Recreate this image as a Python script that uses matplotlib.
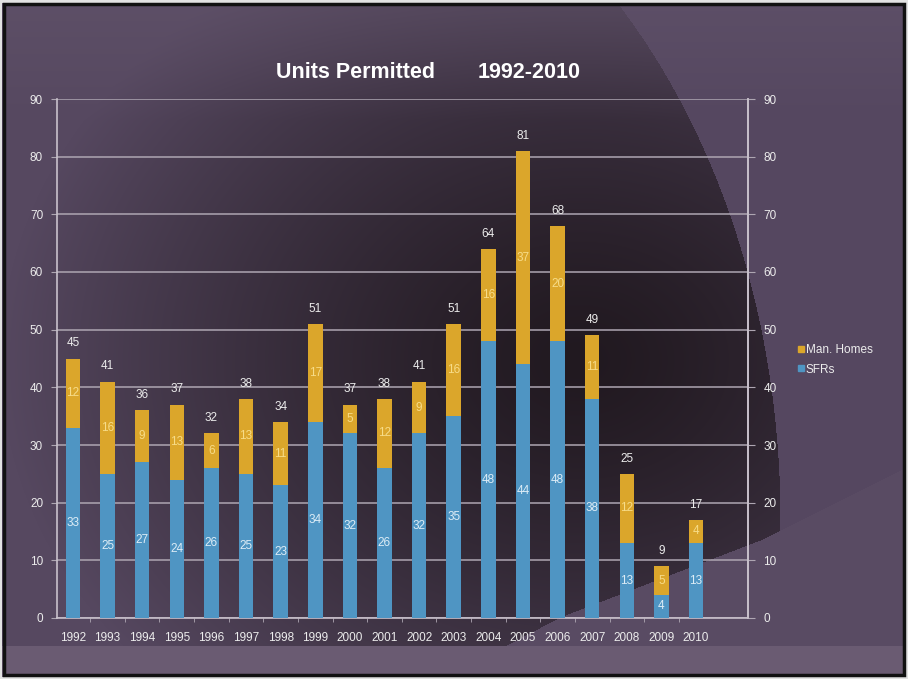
import matplotlib
matplotlib.use("Agg")
import matplotlib.pyplot as plt
import numpy as np
from matplotlib.lines import Line2D
from matplotlib.patches import Rectangle

plt.rcParams['font.family'] = ['Liberation Sans', 'DejaVu Sans']

# permits per year
years = [str(y) for y in range(1992, 2011)]
sfrs = [33, 25, 27, 24, 26, 25, 23, 34, 32, 26, 32, 35, 48, 44, 48, 38, 13, 4, 13]
man_homes = [12, 16, 9, 13, 6, 13, 11, 17, 5, 12, 9, 16, 16, 37, 20, 11, 12, 5, 4]
totals = [45, 41, 36, 37, 32, 38, 34, 51, 37, 38, 41, 51, 64, 81, 68, 49, 25, 9, 17]
y_ticks = list(range(0, 100, 10))

# colours
blue = '#4f95c3'
gold = '#dba62b'
grid_col = '#aea6b2'
text_col = '#ececec'
blue_txt = '#dcecf6'
gold_txt = '#f7dc88'

W, H = 908, 679


def hex_rgb(h):
    return np.array([int(h[i:i + 2], 16) for i in (1, 3, 5)]) / 255.0


def background_image():
    yy, xx = np.mgrid[0:H, 0:W].astype(float)
    img = np.zeros((H, W, 3))
    img[:] = hex_rgb('#554760')

    # big dark sweep through the middle
    e = ((xx - 250) / 530) ** 2 + ((yy - 520) / 717) ** 2
    d = np.hypot(xx - 580, (yy - 360) * 1.25)
    t = np.clip(d / 580, 0, 1) ** 1.3
    dark = hex_rgb('#211920')
    mid = hex_rgb('#564860')
    core = dark + (mid - dark) * t[..., None]
    inside = e < 1
    img[inside] = core[inside]

    # lighter haze along the top
    w = np.clip((120 - yy) / 120, 0, 1) * 0.45
    img = img + (hex_rgb('#66586f') - img) * w[..., None]

    # lavender wedge bottom right
    curve = np.interp(xx, [440, 560, 760, 908], [680, 617, 540, 466])
    wedge = yy > curve
    img[wedge] = hex_rgb('#594b63')

    # lavender strip under the plot
    img[yy > 645] = hex_rgb('#6a5b72')

    # outer frame
    img[(yy < 3) | (xx < 2) | (xx > W - 3) | (yy > H - 3)] = hex_rgb('#e2e2e2')
    return img


def draw_background(fig):
    bg = fig.add_axes([0, 0, 1, 1], zorder=-5)
    bg.imshow(background_image(), extent=(0, W, H, 0), aspect='auto')
    bg.add_patch(Rectangle((4, 4), W - 8, H - 8, fill=False, edgecolor='#111111', linewidth=2.5))
    bg.set_xlim(0, W)
    bg.set_ylim(H, 0)
    bg.axis('off')


def draw_bars(ax):
    x = np.arange(len(years))
    ax.bar(x, sfrs, width=0.42, color=blue, zorder=3)
    ax.bar(x, man_homes, bottom=sfrs, width=0.42, color=gold, zorder=3)

    for i in range(len(years)):
        ax.text(x[i], sfrs[i] / 2, str(sfrs[i]), ha='center', va='center',
                fontsize=8.5, color=blue_txt, zorder=4)
        ax.text(x[i], sfrs[i] + man_homes[i] / 2, str(man_homes[i]), ha='center',
                va='center', fontsize=8.5, color=gold_txt, zorder=4)
        ax.annotate(str(totals[i]), (x[i], sfrs[i] + man_homes[i]), xytext=(0, 11),
                    textcoords='offset points', ha='center', va='center',
                    fontsize=8.5, color=text_col, zorder=4)

    ax.set_xlim(-0.46, 19.5)
    ax.set_ylim(0, 90)
    ax.set_xticks(x)
    ax.set_xticklabels(years)
    ax.set_xticks(x[:-1] + 0.5, minor=True)
    ax.set_yticks(y_ticks)


def style_axes(ax):
    ax.set_facecolor('none')
    ax.grid(axis='y', color=grid_col, linewidth=1.1, zorder=1)
    ax.set_axisbelow(True)
    for side in ('left', 'bottom', 'right'):
        ax.spines[side].set_color('#c9c1cc')
        ax.spines[side].set_linewidth(1.2)
    ax.spines['top'].set_visible(False)
    ax.tick_params(axis='x', which='major', length=0, pad=10, labelsize=8.5, colors=text_col)
    ax.tick_params(axis='x', which='minor', length=3, color=grid_col)
    ax.tick_params(axis='y', length=4, color=grid_col, labelsize=8.5, labelcolor=text_col, pad=6)

    right = ax.twinx()
    right.set_ylim(ax.get_ylim())
    right.set_yticks(y_ticks)
    right.set_facecolor('none')
    for side in ('left', 'bottom', 'top'):
        right.spines[side].set_visible(False)
    right.spines['right'].set_color('#c9c1cc')
    right.spines['right'].set_linewidth(1.2)
    right.tick_params(axis='y', length=5, color=grid_col, labelsize=8.5, labelcolor=text_col, pad=6)


def legend(fig):
    handles = [Line2D([], [], marker='s', linestyle='', markersize=5, color=gold),
               Line2D([], [], marker='s', linestyle='', markersize=5, color=blue)]
    fig.legend(handles, ['Man. Homes', 'SFRs'], loc='center left',
               bbox_to_anchor=(787 / W, 1 - 360 / H), frameon=False, fontsize=8.5,
               labelcolor=text_col, handlelength=0.5, handletextpad=0.2, labelspacing=0.6)


fig = plt.figure(figsize=(W / 100, H / 100), dpi=100)
draw_background(fig)
ax = fig.add_axes([57 / W, 1 - 618 / H, (748 - 57) / W, (618 - 99) / H])
draw_bars(ax)
style_axes(ax)
legend(fig)

fig.text(355 / W, 1 - 72 / H, 'Units Permitted', ha='center', va='center',
         fontsize=15.5, fontweight='bold', color='white')
fig.text(529 / W, 1 - 72 / H, '1992-2010', ha='center', va='center',
         fontsize=15.5, fontweight='bold', color='white')

fig.savefig('out.png', dpi=100)
